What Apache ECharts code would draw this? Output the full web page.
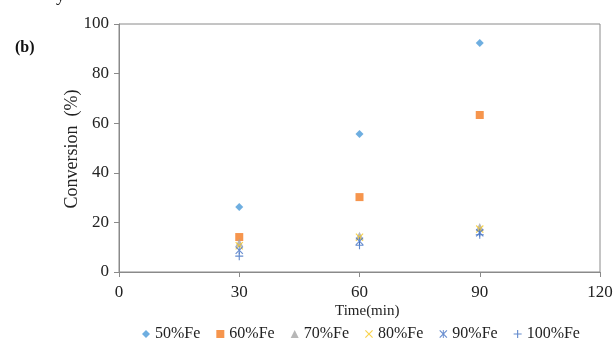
<!DOCTYPE html>
<html>
<head>
<meta charset="utf-8">
<script src="https://cdn.jsdelivr.net/npm/echarts@6/dist/echarts.min.js"></script>
<style>
  html, body { margin: 0; padding: 0; background: #fff; }
  #chart { width: 616px; height: 342px; }
</style>
</head>
<body>
<div id="chart"></div>
<script>
// Time points (min)
const times = [30, 60, 90]
const xTicks = [0, 30, 60, 90, 120]
const yTicks = [0, 20, 40, 60, 80, 100]

// Conversion (%) per Fe content
const fe50 = [26.2, 55.6, 92.3]
const fe60 = [14.1, 30.2, 63.3]
const fe70 = [11.8, 14.6, 18.1]
const fe80 = [10.6, 14.0, 17.3]
const fe90 = [8.8, 12.4, 15.8]
const fe100 = [6.4, 10.8, 15.0]

const names = ["50%Fe", "60%Fe", "70%Fe", "80%Fe", "90%Fe", "100%Fe"]
const values = [fe50, fe60, fe70, fe80, fe90, fe100]

const crossX = "path://M0,1L1,0L5,4L9,0L10,1L6,5L10,9L9,10L5,6L1,10L0,9L4,5Z"
const star = "path://M0,1L1,0L5,4L9,0L10,1L6,5L10,9L9,10L5,6L1,10L0,9L4,5Z M4.4,0L5.6,0L5.6,10L4.4,10Z"
const plus = "path://M4.3,0L5.7,0L5.7,4.3L10,4.3L10,5.7L5.7,5.7L5.7,10L4.3,10L4.3,5.7L0,5.7L0,4.3L4.3,4.3Z"

const symbols = ["diamond", "rect", "triangle", crossX, star, plus]
const sizes = [8, 8, 8, 8, 8, 8]
const colors = ["#4A9AD8", "#F47B20", "#A5A5A5", "#F7C81E", "#4472C4", "#3C6EC0"]

const chart = echarts.init(document.getElementById("chart"))

const serif = "Liberation Serif"

const option = {
  backgroundColor: "#fff",
  animation: false,
  grid: {
    left: 119,
    right: 16,
    top: 24,
    bottom: 70,
    show: true,
    borderColor: "#8a8a8a",
    borderWidth: 1,
  },
  legend: {
    data: names.map((n, i) => ({ name: n, icon: symbols[i] })),
    left: 137,
    top: 321,
    itemWidth: 8,
    itemHeight: 8,
    itemGap: 16,
    textStyle: { fontFamily: serif, fontSize: 16, color: "#222" },
  },
  xAxis: {
    type: "value",
    min: 0,
    max: 120,
    interval: 30,
    axisLine: { show: true, lineStyle: { color: "#8a8a8a" } },
    axisTick: { show: true, length: 5, lineStyle: { color: "#8a8a8a" } },
    axisLabel: { fontFamily: serif, fontSize: 17, color: "#222", margin: 12 },
    splitLine: { show: false },
  },
  yAxis: {
    type: "value",
    min: 0,
    max: 100,
    interval: 20,
    axisLine: { show: true, lineStyle: { color: "#8a8a8a" } },
    axisTick: { show: true, length: 5, lineStyle: { color: "#8a8a8a" } },
    axisLabel: { fontFamily: serif, fontSize: 17, color: "#222", margin: 10 },
    splitLine: { show: false },
  },
  graphic: [
    {
      type: "text",
      left: 335,
      top: 304,
      style: { text: "Time(min)", font: "15px " + serif, fill: "#222" },
    },
    {
      type: "text",
      x: 72,
      y: 149,
      rotation: Math.PI / 2,
      style: {
        text: "Conversion  (%)",
        font: "18px " + serif,
        fill: "#222",
        align: "center",
        verticalAlign: "middle",
      },
    },
    {
      type: "text",
      left: 15,
      top: 40,
      style: { text: "(b)", font: "bold 16px " + serif, fill: "#111" },
    },
    {
      type: "text",
      left: 56,
      top: -13,
      style: { text: "y", font: "18px " + serif, fill: "#222" },
    },
  ],
  series: names.map((n, i) => ({
    name: n,
    type: "scatter",
    symbol: symbols[i],
    symbolSize: sizes[i],
    itemStyle: { color: colors[i] },
    data: times.map((t, j) => [t, values[i][j]]),
  })),
}

chart.setOption(option)
</script>
</body>
</html>
